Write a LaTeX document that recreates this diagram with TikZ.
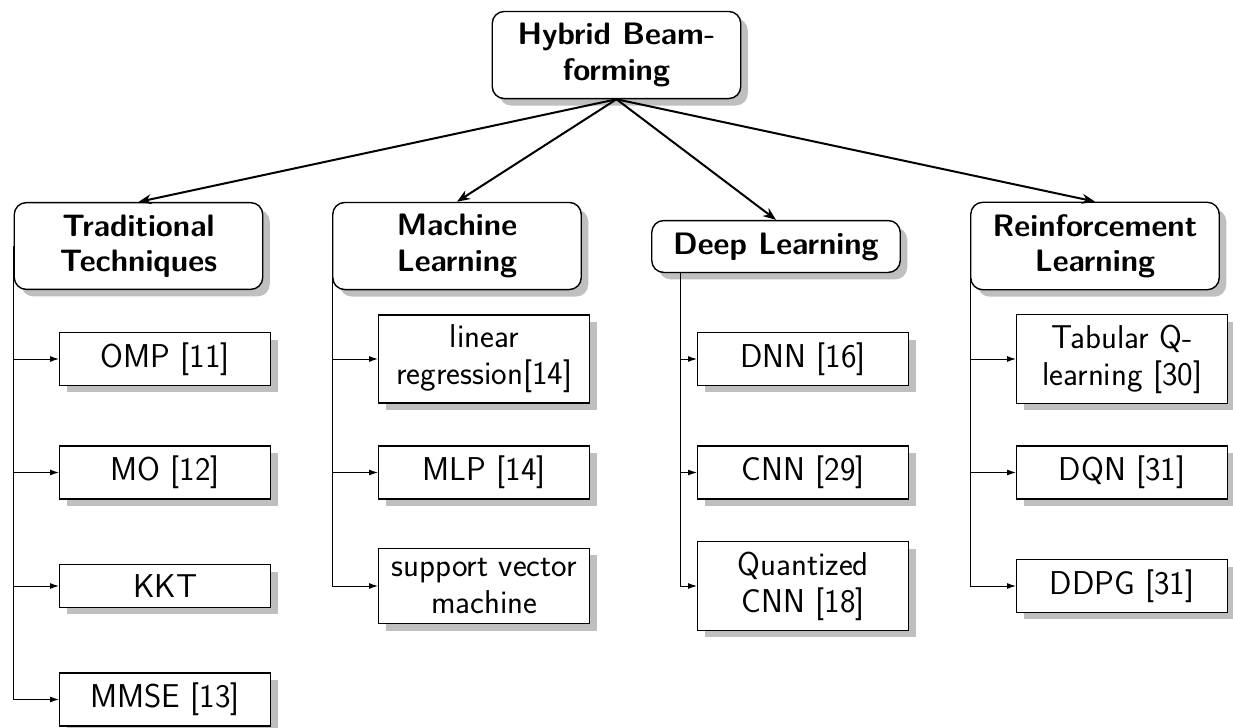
\documentclass[tikz,border=0pt]{standalone}
\usepackage{fontspec}
\usetikzlibrary{arrows.meta,shadows,calc}

\tikzset{
  boxbase/.style={draw, line width=0.7pt, fill=white, align=center,
    drop shadow={shadow xshift=3.5pt, shadow yshift=-3.5pt, fill=black!25, opacity=1}},
  headbox/.style={boxbase, rounded corners=6pt, minimum width=124.25pt, inner ysep=6pt,
    font={\sffamily\bfseries\fontsize{15.5}{17.6}\selectfont}},
  leafbox/.style={boxbase, anchor=west, minimum width=105.5pt, inner ysep=5pt,
    font={\sffamily\fontsize{16.5}{18.4}\selectfont}},
  toparrow/.style={-{Stealth[length=6.5pt,width=5pt]}, line width=1pt},
  leafarrow/.style={-{Latex[length=4.5pt,width=3pt]}, line width=0.5pt},
}

\begin{document}
\begin{tikzpicture}[x=0.5pt, y=-0.5pt]
  \useasboundingbox (0,0) rectangle (1233,728);

  % root and the four families
  \node[headbox] (top) at (616.5,55) {Hybrid Beam-\\forming};
  \node[headbox] (trad) at (138.5,246) {Traditional\\Techniques};
  \node[headbox] (ml)   at (457,246)   {Machine\\Learning};
  \node[headbox] (dl)   at (776,246.5) {Deep Learning};
  \node[headbox] (rl)   at (1095,246)  {Reinforcement\\Learning};

  % traditional techniques
  \node[leafbox] (omp)  at (59,359)   {OMP [11]};
  \node[leafbox] (mo)   at (59,472.5) {MO [12]};
  \node[leafbox] (kkt)  at (59,586)   {KKT};
  \node[leafbox] (mmse) at (59,699.5) {MMSE [13]};

  % machine learning
  \node[leafbox] (linreg) at (378,359)   {linear\\regression[14]};
  \node[leafbox] (mlp)    at (378,472.5) {MLP [14]};
  \node[leafbox] (svm)    at (378,586)   {support vector\\machine};

  % deep learning
  \node[leafbox] (dnn)  at (697,359)   {DNN [16]};
  \node[leafbox] (cnn)  at (697,472.5) {CNN [29]};
  \node[leafbox] (qcnn) at (697,586)   {Quantized\\CNN [18]};

  % reinforcement learning
  \node[leafbox] (tabq) at (1016,359)   {Tabular Q-\\learning [30]};
  \node[leafbox] (dqn)  at (1016,472.5) {DQN [31]};
  \node[leafbox] (ddpg) at (1016,586)   {DDPG [31]};

  % root to families
  \foreach \c in {trad,ml,dl,rl}
    \draw[toparrow] (top.south) -- (\c.north);

  % family to methods
  \coordinate (dlroot) at ([xshift=14.5pt]dl.south west);
  \foreach \l in {omp,mo,kkt,mmse}
    \draw[leafarrow] (trad.west) |- (\l.west);
  \foreach \l in {linreg,mlp,svm}
    \draw[leafarrow] (ml.west) |- (\l.west);
  \foreach \l in {dnn,cnn,qcnn}
    \draw[leafarrow] (dlroot) |- (\l.west);
  \foreach \l in {tabq,dqn,ddpg}
    \draw[leafarrow] (rl.west) |- (\l.west);
\end{tikzpicture}
\end{document}
